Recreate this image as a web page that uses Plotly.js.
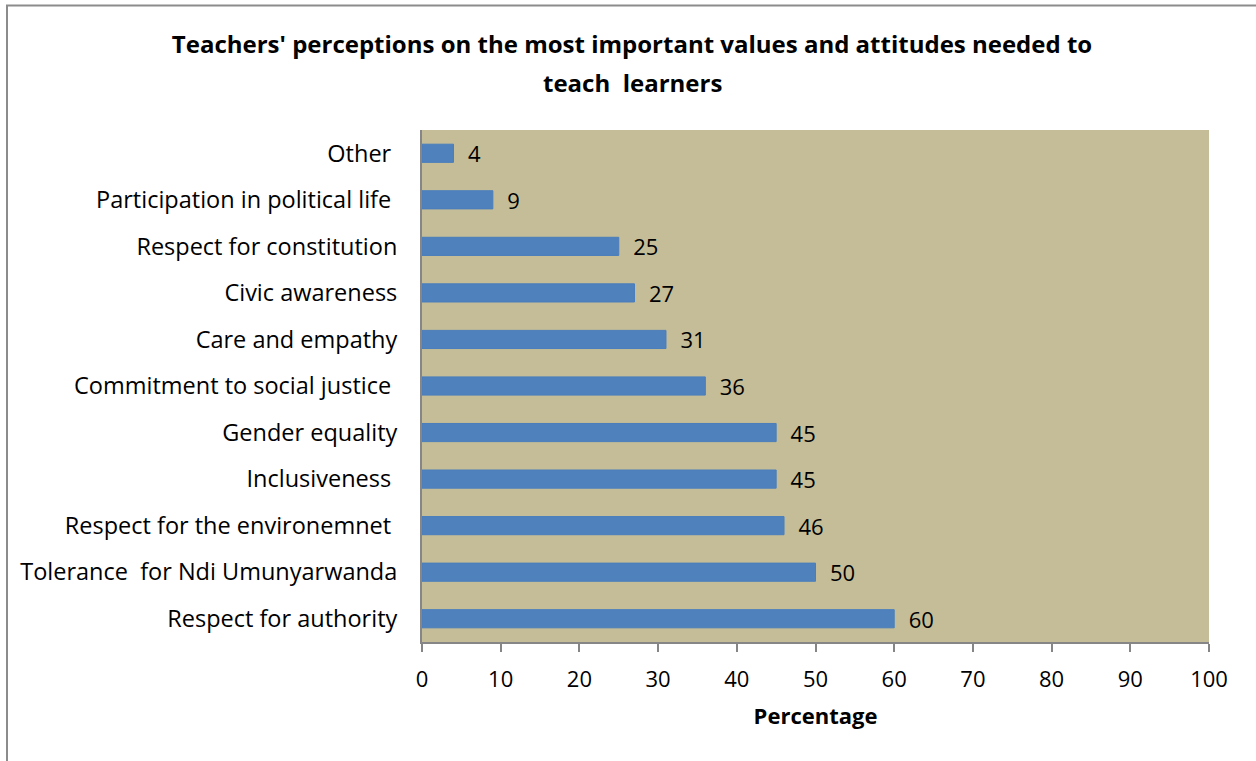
<!DOCTYPE html>
<html>
<head>
<meta charset="utf-8">
<script src="https://cdn.plot.ly/plotly-3.0.1.min.js"></script>
<style>html,body{margin:0;padding:0;background:#fff;}#chart{width:1256px;height:761px;}</style>
</head>
<body>
<div id="chart"></div>
<script>
const categories = [
  "Respect for authority",
  "Tolerance\u00A0\u00A0for Ndi Umunyarwanda",
  "Respect for the environemnet\u00A0",
  "Inclusiveness\u00A0",
  "Gender equality",
  "Commitment to social justice\u00A0",
  "Care and empathy",
  "Civic awareness",
  "Respect for constitution",
  "Participation in political life\u00A0",
  "Other\u00A0"
];
const percentages = [60, 50, 46, 45, 45, 36, 31, 27, 25, 9, 4];
const xTicks = [0, 10, 20, 30, 40, 50, 60, 70, 80, 90, 100];
const titleLines = [
  "Teachers' perceptions on the most important values and attitudes needed to",
  "teach\u00A0\u00A0learners"
];

const FONT = "Open Sans, Liberation Sans, sans-serif";

const trace = {
  type: "bar",
  orientation: "h",
  x: percentages,
  y: categories,
  text: percentages.map(v => "\u00A0\u00A0" + v),
  textposition: "outside",
  constraintext: "none",
  cliponaxis: false,
  textfont: {family: FONT, size: 22, color: "#000"},
  marker: {color: "#4F81BD", line: {color: "#4A7EBB", width: 1}},
  hoverinfo: "x+y"
};

const W = 1256, H = 761, L = 422, R = 47, T = 130, B = 119;
const pw = W - L - R, ph = H - T - B;
const px2x = p => (p - L) / pw;
const py2y = p => 1 + (T - p) / ph;

const layout = {
  width: W, height: H,
  margin: {l: L, r: R, t: T, b: B, pad: 0},
  paper_bgcolor: "#FFFFFF",
  plot_bgcolor: "#C4BD97",
  bargap: 0.61,
  showlegend: false,
  font: {family: FONT, size: 22, color: "#000"},
  title: {
    text: "<b>" + titleLines[0] + "</b>",
    font: {family: FONT, size: 24, color: "#000"},
    x: 632 / W, xanchor: "center", xref: "container",
    y: 1 - 45 / H, yanchor: "middle", yref: "container"
  },
  annotations: [
    {
      text: "<b>" + titleLines[1] + "</b>",
      xref: "paper", yref: "paper",
      x: px2x(632), y: py2y(82),
      xanchor: "center", yanchor: "middle",
      showarrow: false,
      font: {family: FONT, size: 24, color: "#000"}
    }
  ],
  xaxis: {
    range: [0, 100],
    tickvals: xTicks,
    ticktext: xTicks.map(String),
    ticks: "outside",
    ticklen: 8,
    tickwidth: 2,
    tickcolor: "#868686",
    showline: true,
    linecolor: "#868686",
    linewidth: 2,
    showgrid: false,
    zeroline: false,
    ticklabelstandoff: 9,
    tickfont: {family: FONT, size: 22, color: "#000"},
    title: {text: "<b>Percentage</b>", font: {family: FONT, size: 22, color: "#000"}, standoff: 16},
    fixedrange: true
  },
  yaxis: {
    ticks: "",
    showline: true,
    linecolor: "#868686",
    linewidth: 2,
    showgrid: false,
    zeroline: false,
    ticklabelstandoff: 18,
    tickfont: {family: FONT, size: 23.5, color: "#000"},
    fixedrange: true
  },
  shapes: [
    {type: "line", xref: "paper", yref: "paper", x0: px2x(7), x1: px2x(7), y0: py2y(5.5), y1: py2y(800), line: {color: "#8C8C8C", width: 2}},
    {type: "line", xref: "paper", yref: "paper", x0: px2x(6), x1: px2x(1300), y0: py2y(5.5), y1: py2y(5.5), line: {color: "#8C8C8C", width: 2}}
  ]
};

Plotly.newPlot("chart", [trace], layout, {displayModeBar: false, staticPlot: true});
</script>
</body>
</html>
